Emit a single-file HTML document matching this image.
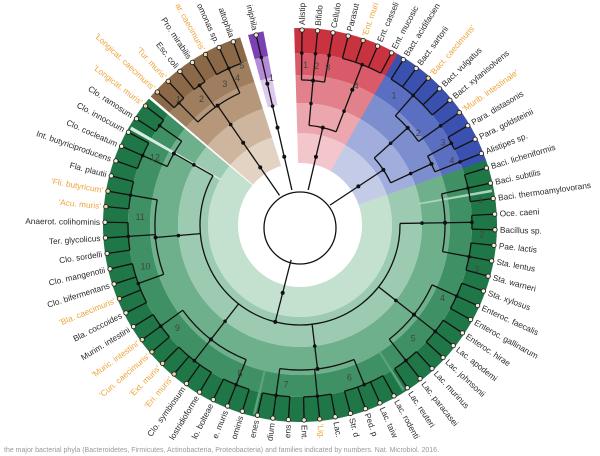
<!DOCTYPE html>
<html><head><meta charset="utf-8">
<style>
html,body{margin:0;padding:0;background:#fff;width:600px;height:456px;overflow:hidden;}
svg{display:block;font-family:"Liberation Sans",sans-serif;overflow:hidden;}
</style></head>
<body>
<svg id="s" width="600" height="456" viewBox="0 0 600 456" xmlns="http://www.w3.org/2000/svg"></svg>
<script>
var NS="http://www.w3.org/2000/svg",S=document.getElementById('s');
var cx=300,cy=225,RT=195,LABELS=[];
function el(t,a,txt){var e=document.createElementNS(NS,t);for(var k in a)e.setAttribute(k,a[k]);if(txt!=null)e.textContent=txt;S.appendChild(e);return e;}
function P(r,a){var t=a*Math.PI/180;return [cx+r*Math.cos(t),cy+r*Math.sin(t)];}
function f(p){return p[0].toFixed(2)+' '+p[1].toFixed(2);}
function annulus(r0,r1,a0,a1,col){var l=(a1-a0)>180?1:0;
 var d='M'+f(P(r1,a0))+' A'+r1+' '+r1+' 0 '+l+' 1 '+f(P(r1,a1))+' L'+f(P(r0,a1))+' A'+r0+' '+r0+' 0 '+l+' 0 '+f(P(r0,a0))+'Z';
 el('path',{d:d,fill:col});}
function arc(r,a0,a1){var l=(a1-a0)>180?1:0;el('path',{d:'M'+f(P(r,a0))+' A'+r+' '+r+' 0 '+l+' 1 '+f(P(r,a1)),fill:'none',stroke:'#111','stroke-width':1.3});}
function rad(r0,r1,a){el('line',{x1:P(r0,a)[0],y1:P(r0,a)[1],x2:P(r1,a)[0],y2:P(r1,a)[1],stroke:'#111','stroke-width':1.3});}
function dot(r,a,rr){var p=P(r,a);el('circle',{cx:p[0],cy:p[1],r:rr||2,fill:'#111'});}
var bandR=[62,92,122,150,172,197];
function sector(a0,names,step,cols,groups,supers,nums){
 var tips=names.map(function(n,i){return a0+i*step;});
 var s0=tips[0]-2.3,s1=tips[tips.length-1]+2.3;
 for(var b=0;b<5;b++)annulus(bandR[b],bandR[b+1],s0,s1,cols[b]);
 return {tips:tips,names:names,groups:groups,supers:supers,nums:nums};
}
function tree(o){
 var t=o.tips,gi=0,gn=[];
 o.groups.forEach(function(g){var a=t.slice(gi,gi+g);gi+=g;
  a.forEach(function(x){rad(172,RT,x);});
  if(a.length>1)arc(172,a[0],a[a.length-1]);
  var m=(a[0]+a[a.length-1])/2;gn.push(m);rad(145,172,m);dot(172,m,1.8);});
 var si=0,sn=[];
 o.supers.forEach(function(g){var a=gn.slice(si,si+g);si+=g;
  if(a.length>1)arc(145,a[0],a[a.length-1]);
  var m=(a[0]+a[a.length-1])/2;sn.push(m);rad(100,145,m);dot(145,m,2);dot(122,m,1.8);});
 if(sn.length>1)arc(100,sn[0],sn[sn.length-1]);
 var m=(sn[0]+sn[sn.length-1])/2;rad(36,100,m);dot(100,m,2);dot(70,m,2);
 t.forEach(function(a,i){var p=P(RT,a);
  var n=o.names[i],q=n.charAt(0)=="'";
  el('circle',{cx:p[0],cy:p[1],r:2.2,fill:q?'#f6d7a0':'#f3ead8',stroke:'#222','stroke-width':0.9});
  var lp=P(RT+5,a),an=((a%360)+360)%360,flip=an>90&&an<270;
  var tx=el('text',{x:lp[0],y:lp[1],'font-size':8.3,fill:q?'#eea43a':'#2a2a2a','text-anchor':flip?'end':'start',dy:'0.33em',
   transform:'rotate('+(flip?an+180:an)+' '+lp[0].toFixed(2)+' '+lp[1].toFixed(2)+')'},n);
  LABELS.push([tx,flip]);});
 (o.nums||[]).forEach(function(n){var p=P(n[1],n[2]);el('text',{x:p[0],y:p[1],'font-size':9,fill:'#444','text-anchor':'middle',dy:'0.35em'},n[0]);});
}
var G=['#c4e0cf','#9ccbb1','#6fb08c','#3f9165','#1f7747'];
var R=['#f3c6cb','#eca6ae','#e2818b','#d95a68','#c9323f'];
var B=['#c3cbe7','#a0addd','#7d8ecf','#5a6fc1','#3a51b0'];
var Br=['#e2d3c3','#cdb69d','#b69779','#9e7e5e','#8a6848'];
var Pu=['#ffffff','#ffffff','#ddc8ee','#b58ad8','#7b40b3'];
var sectors=[];
sectors.push(sector(343,["Baci. licheniformis","Baci. subtilis","Baci. thermoamylovorans","Oce. caeni","Bacillus sp.","Pae. lactis","Sta. lentus","Sta. warneri","Sta. xylosus","Enteroc. faecalis","Enteroc. gallinarum","Enteroc. hirae","Lac. apodemi","Lac. johnsonii","Lac. murinus","Lac. paracasei","Lac. reuteri","Lac. rodentium","Lac. taiwanensis","Ped. pentosaceus","Str. danieliae","Lac. intestinalis","'Lig. muris'","Ent. xylanolyticum","Clo. scindens","Clo. clostridium","Ery. ramosigenes","Clo. hathewayi ominis","Ace. muris","Clo. bolteae","Clo. clostridioforme","Clo. symbiosum","'Eri. muris'","'Ext. muris'","'Cun. caecimuris'","'Muric. intestini'","Murim. intestini","Bla. coccoides","'Bla. caecimuris'","Clo. bifermentans","Clo. mangenotii","Clo. sordelli","Ter. glycolicus","Anaerot. colihominis","'Acu. muris'","'Fli. butyricum'","Fla. plautii","Int. butyriciproducens","Clo. cocleatum","Clo. innocuum","Clo. ramosum","'Longicat. muris'"],4.6,G,
 [3,2,3,3,3,3,4,3,3,3,4,3,4,3,3,3,3],[3,3,3,3,3,2],
 [['1',182,352],['2',182,3],['3',182,14],['4',160,27],['5',160,45],['6',160,72],['7',160,95],['8',160,112],['9',160,140],['10',160,165],['11',160,183],['12',160,205]]));
sectors.push(sector(223,["'Longicat. caecimuris'","'Tur. muris'","Esc. coli","Pro. mirabilis","'Par. caecimuris'","Pseudomonas sp.","Ste. maltophila"],4.5,Br,[2,2,3],[3],[['1',175,226],['2',160,232],['3',160,242],['4',160,247],['5',170,250]]));
sectors.push(sector(257,["Akk. muciniphila"],4.5,Pu,[1],[1],[['1',150,259]]));
sectors.push(sector(270.6,["Alistipes","Bifidobacterium","Cellulomonas","Parasutterella","'Ent. muris'","Ent. casseliflavus","Ent. mucosicola"],4.57,R,[1,1,1,4],[3,1],[['1',160,272],['2',160,276],['3',160,280],['4',150,292]]));
sectors.push(sector(302,["Bact. acidifaciens","Bact. sartorii","'Bact. caecimuris'","Bact. vulgatus","Bact. xylanisolvens","'Murib. intestinale'","Para. distasonis","Para. goldsteinii","Alistipes sp."],4.56,B,[5,1,2,1],[2,2],[['1',160,306],['2',150,322],['3',165,330],['4',165,337]]));
annulus(92,195,209.3,210.3,'#d7ece0');
annulus(120,195,349.5,350.3,'#a9d3bb');
annulus(150,195,57.5,58.3,'#5aa37c');
annulus(150,195,103.2,104,'#5aa37c');
sectors.forEach(tree);
el('circle',{cx:cx,cy:cy+3,r:36,fill:'none',stroke:'#111','stroke-width':1.3});
// trim labels that leave the frame
var sr=S.getBoundingClientRect();
LABELS.forEach(function(L){var t=L[0],flip=L[1],s=t.textContent,guard=0;
 while(s.length>0&&guard<60){var r=t.getBoundingClientRect();
  if(r.bottom-sr.top<=442&&r.top-sr.top>=0&&r.left>=sr.left&&r.right<=sr.right)break;
  s=flip?s.slice(1):s.slice(0,-1);t.textContent=s;guard++;}
 if(!s.length)t.parentNode.removeChild(t);});
el('text',{x:4,y:452,'font-size':7,fill:'#9a9a9a'},"the major bacterial phyla (Bacteroidetes, Firmicutes, Actinobacteria, Proteobacteria) and families indicated by numbers. Nat. Microbiol. 2016.");
</script>
</body></html>
